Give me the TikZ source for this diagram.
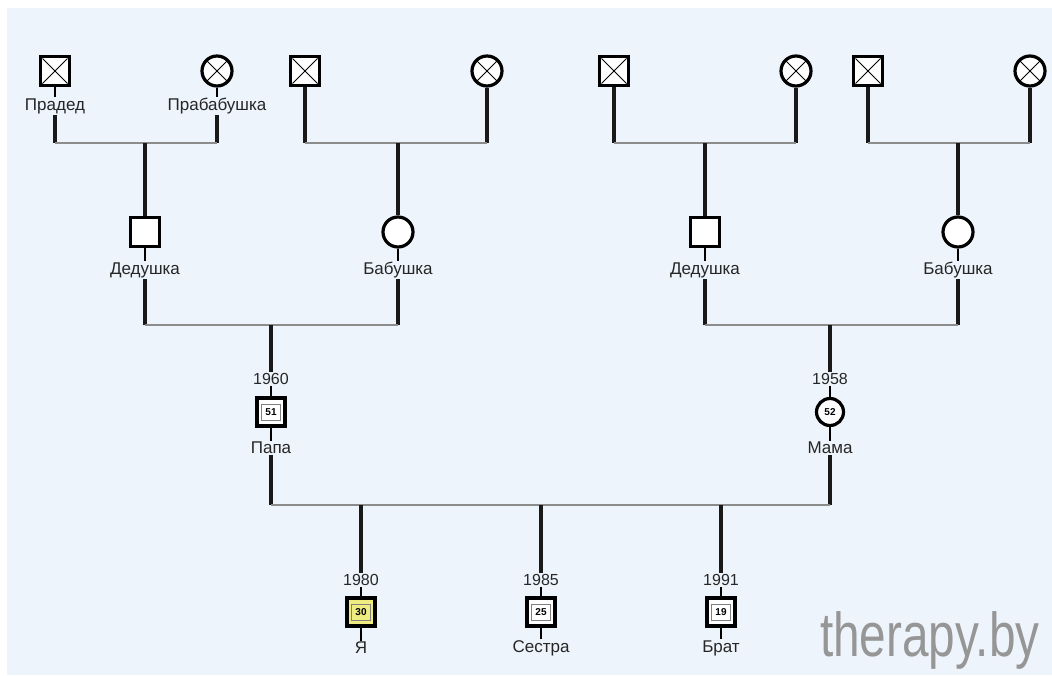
\documentclass[tikz,border=0pt]{standalone}
\usepackage{fontspec}
\setmainfont{Liberation Sans}
\definecolor{bgblue}{RGB}{238,244,251}
\definecolor{meyellow}{RGB}{240,236,128}
\definecolor{linegray}{RGB}{140,140,140}
\definecolor{wmgray}{RGB}{150,150,150}
\begin{document}
\begin{tikzpicture}[x=1pt,y=-1pt,
  lbl/.style={font=\fontsize{17}{17}\selectfont, inner sep=1pt, text=black!85},
  yr/.style={font=\fontsize{16}{16}\selectfont, inner sep=1pt, text=black!85},
  male/.style={draw, line width=3.2pt, minimum size=29pt, inner sep=0pt, fill=white},
  female/.style={circle, draw, line width=3.2pt, minimum size=30pt, inner sep=0pt, fill=white},
  pmale/.style={draw, line width=3.2pt, minimum size=28pt, inner sep=0pt, fill=white,
    font=\fontsize{10}{10}\selectfont\bfseries},
  pfemale/.style={circle, draw, line width=3.2pt, minimum size=27pt, inner sep=0pt, fill=white,
    font=\fontsize{10}{10}\selectfont\bfseries},
  dead/.style={path picture={\draw[line width=0.9pt]
    ([shift={(2pt,-2pt)}]path picture bounding box.north west) -- ([shift={(-2pt,2pt)}]path picture bounding box.south east)
    ([shift={(-2pt,-2pt)}]path picture bounding box.north east) -- ([shift={(2pt,2pt)}]path picture bounding box.south west);}},
  agebox/.style={path picture={\draw[gray,line width=0.8pt]
    ([shift={(4.5pt,-6pt)}]path picture bounding box.north west) rectangle
    ([shift={(-4.5pt,6pt)}]path picture bounding box.south east);}},
  vline/.style={line width=3.2pt, black!90},
  stub/.style={line width=2pt, black},
  hline/.style={line width=2.4pt, linegray},
]
\useasboundingbox (0,0) rectangle (1052,675);
\fill[white] (0,0) rectangle (1052,675);
\fill[bgblue] (7,8) rectangle (1052,675);

% ---- great-grandparents ----
\node[male,dead]   (g1m) at (55,71) {};
\node[female,dead] (g1f) at (217,71) {};
\node[lbl] (g1mL) at (55,106) {Прадед};
\node[lbl] (g1fL) at (217,106) {Прабабушка};
\node[male,dead]   (g2m) at (305,71) {};
\node[female,dead] (g2f) at (487,71) {};
\node[male,dead]   (g3m) at (614,71) {};
\node[female,dead] (g3f) at (796,71) {};
\node[male,dead]   (g4m) at (868,71) {};
\node[female,dead] (g4f) at (1030,71) {};

% ---- grandparents ----
\node[male]   (d1) at (145,232) {};
\node[female] (b1) at (398,232) {};
\node[male]   (d2) at (705,232) {};
\node[female] (b2) at (958,232) {};
\node[lbl] (d1L) at (145,270) {Дедушка};
\node[lbl] (b1L) at (398,270) {Бабушка};
\node[lbl] (d2L) at (705,270) {Дедушка};
\node[lbl] (b2L) at (958,270) {Бабушка};

% ---- parents ----
\node[yr] (pY) at (271,379) {1960};
\node[pmale,agebox] (p) at (271,412) {51};
\node[lbl] (pL) at (271,448) {Папа};
\node[yr] (mY) at (830,379) {1958};
\node[pfemale] (m) at (830,412) {52};
\node[lbl] (mL) at (830,448) {Мама};

% ---- children ----
\node[yr] (c1Y) at (361,580) {1980};
\node[pmale,agebox,fill=meyellow] (c1) at (361,612) {30};
\node[lbl] (c1L) at (361,648) {Я};
\node[yr] (c2Y) at (541,580) {1985};
\node[pmale,agebox] (c2) at (541,612) {25};
\node[lbl] (c2L) at (541,648) {Сестра};
\node[yr] (c3Y) at (721,580) {1991};
\node[pmale,agebox] (c3) at (721,612) {19};
\node[lbl] (c3L) at (721,648) {Брат};

% junction coordinates
\coordinate (j1) at (145,143);
\coordinate (j2) at (398,143);
\coordinate (j3) at (705,143);
\coordinate (j4) at (958,143);
\coordinate (k1) at (271,325);
\coordinate (k2) at (830,325);
\coordinate (r)  at (541,505);

% ---- connectors: top couples ----
\draw[stub] (g1m) -- (g1mL);
\draw[stub] (g1f) -- (g1fL);
\draw[vline] (g1mL) -- (g1mL |- j1);
\draw[vline] (g1fL) -- (g1fL |- j1);
\draw[hline] (g1mL |- j1) -- (g1fL |- j1);
\draw[vline] (j1) -- (d1);

\draw[vline] (g2m) -- (g2m |- j2);
\draw[vline] (g2f) -- (g2f |- j2);
\draw[hline] (g2m |- j2) -- (g2f |- j2);
\draw[vline] (j2) -- (b1);

\draw[vline] (g3m) -- (g3m |- j3);
\draw[vline] (g3f) -- (g3f |- j3);
\draw[hline] (g3m |- j3) -- (g3f |- j3);
\draw[vline] (j3) -- (d2);

\draw[vline] (g4m) -- (g4m |- j4);
\draw[vline] (g4f) -- (g4f |- j4);
\draw[hline] (g4m |- j4) -- (g4f |- j4);
\draw[vline] (j4) -- (b2);

% ---- connectors: grandparents ----
\draw[stub] (d1) -- (d1L);
\draw[stub] (b1) -- (b1L);
\draw[stub] (d2) -- (d2L);
\draw[stub] (b2) -- (b2L);
\draw[vline] (d1L) -- (d1L |- k1);
\draw[vline] (b1L) -- (b1L |- k1);
\draw[hline] (d1L |- k1) -- (b1L |- k1);
\draw[vline] (k1) -- (pY);
\draw[vline] (d2L) -- (d2L |- k2);
\draw[vline] (b2L) -- (b2L |- k2);
\draw[hline] (d2L |- k2) -- (b2L |- k2);
\draw[vline] (k2) -- (mY);

% ---- connectors: parents ----
\draw[stub] (pY) -- (p);
\draw[stub] (p) -- (pL);
\draw[stub] (mY) -- (m);
\draw[stub] (m) -- (mL);
\draw[vline] (pL) -- (pL |- r);
\draw[vline] (mL) -- (mL |- r);
\draw[hline] (pL |- r) -- (mL |- r);
\draw[vline] (c1Y |- r) -- (c1Y);
\draw[vline] (r) -- (c2Y);
\draw[vline] (c3Y |- r) -- (c3Y);
\draw[stub] (c1Y) -- (c1);
\draw[stub] (c1) -- (c1L);
\draw[stub] (c2Y) -- (c2);
\draw[stub] (c2) -- (c2L);
\draw[stub] (c3Y) -- (c3);
\draw[stub] (c3) -- (c3L);

% ---- watermark ----
\node[anchor=base west, inner sep=0pt, text=wmgray, xscale=0.77,
  font=\fontsize{62}{62}\selectfont] (wm) at (820,656) {therapy.by};
\end{tikzpicture}
\end{document}
